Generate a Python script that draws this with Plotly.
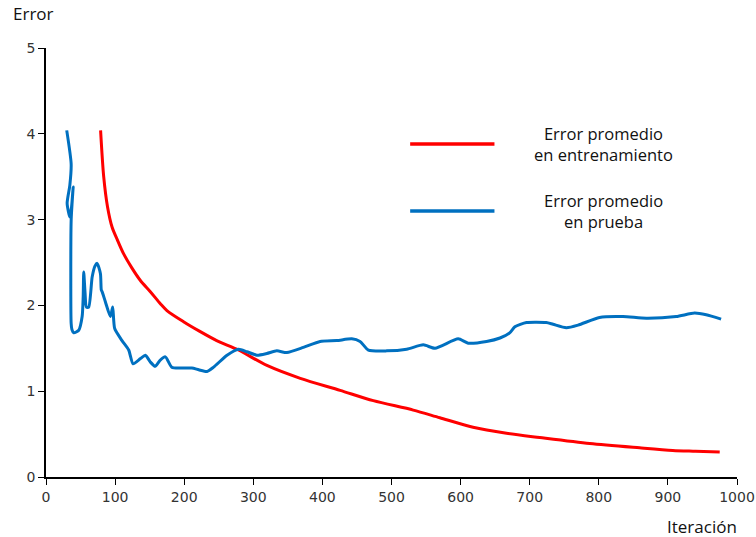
import plotly.graph_objects as go

# Training error (red)
train_x = [79, 83.5, 89, 95.7, 104, 112.4, 124, 136.6, 151, 165.5, 175, 199, 222, 247, 278.6, 319.7,
           368, 425.6, 473.7, 531.5, 570, 618, 666.5, 714.6, 787, 859, 907, 940, 975]
train_y = [4.04, 3.50, 3.15, 2.91, 2.75, 2.60, 2.44, 2.29, 2.16, 2.02, 1.94, 1.81, 1.70, 1.59, 1.48, 1.30,
           1.15, 1.01, 0.89, 0.78, 0.69, 0.58, 0.51, 0.46, 0.39, 0.34, 0.31, 0.30, 0.29]

# Test error (blue)
test_x = [30, 36.4, 34.5, 30.6, 34.4, 37.0, 39.3, 36.4, 36.4, 37.5, 40.2, 47.4, 52.3, 53.8, 54.6, 56.5, 58.5,
          61.8, 66.8, 71, 74, 78.8, 80.0, 81.2, 86, 93.2, 96.5, 99.4, 110, 119.7, 126, 136.6, 143.8,
          151, 158, 165, 172.7, 182, 194, 211, 221, 233, 242.5, 262, 278.6, 290.7, 305, 319.7, 334,
          348.6, 372.5, 396.7, 420.8, 442.5, 454.5, 466.5, 493, 522, 546, 563, 596.5, 611, 637.5,
          657, 671, 678.5, 695.4, 724, 733.8, 753, 770, 801, 835, 868.8, 912, 938.6, 955.5, 977]
test_y = [4.04, 3.65, 3.40, 3.19, 3.03, 3.15, 3.38, 2.99, 1.79, 1.72, 1.68, 1.71, 1.87, 2.10, 2.39, 2.15, 1.98,
          1.98, 2.33, 2.46, 2.49, 2.37, 2.18, 2.16, 2.04, 1.87, 1.98, 1.73, 1.59, 1.48, 1.32, 1.38, 1.42,
          1.34, 1.29, 1.36, 1.40, 1.28, 1.27, 1.27, 1.25, 1.23, 1.28, 1.42, 1.49, 1.46, 1.42, 1.44, 1.47,
          1.45, 1.51, 1.58, 1.59, 1.61, 1.58, 1.48, 1.47, 1.49, 1.54, 1.50, 1.61, 1.56, 1.58,
          1.62, 1.68, 1.75, 1.80, 1.80, 1.78, 1.74, 1.77, 1.86, 1.87, 1.85, 1.87, 1.91, 1.89, 1.84]

x_ticks = [0, 100, 200, 300, 400, 500, 600, 700, 800, 900, 1000]
y_ticks = [0, 1, 2, 3, 4, 5]

series_names = ["Error promedio<br>en entrenamiento", "Error promedio<br>en prueba"]
series_colors = ["#FF0000", "#0070C0"]

fig = go.Figure()
fig.add_trace(go.Scatter(x=train_x, y=train_y, mode="lines",
                         line=dict(color=series_colors[0], width=3, shape="spline", smoothing=0.8),
                         showlegend=False))
fig.add_trace(go.Scatter(x=test_x, y=test_y, mode="lines",
                         line=dict(color=series_colors[1], width=3, shape="spline", smoothing=0.6),
                         showlegend=False))

tick_font = dict(family="DejaVu Sans", size=14, color="#333333")
fig.update_xaxes(range=[0, 1000], tickvals=x_ticks, showgrid=False, zeroline=False,
                 showline=True, linecolor="#000000", linewidth=1.5,
                 ticks="outside", ticklen=6, tickcolor="#000000", tickfont=tick_font)
fig.update_yaxes(range=[0, 5], tickvals=y_ticks, showgrid=False, zeroline=False,
                 showline=True, linecolor="#000000", linewidth=1.5,
                 ticks="outside", ticklen=6, tickcolor="#000000", tickfont=tick_font)

label_font = dict(family="Open Sans", size=17, color="#111111")
annotations = [
    dict(text="Error", xref="paper", yref="paper", x=-0.05, y=1.08, xanchor="left", yanchor="middle",
         showarrow=False, font=label_font),
    dict(text="Iteración", xref="paper", yref="paper", x=1.003, y=-0.115, xanchor="right", yanchor="middle",
         showarrow=False, font=label_font),
]
legend_y = [0.776, 0.620]
for name, color, ly in zip(series_names, series_colors, legend_y):
    annotations.append(dict(text=name, xref="paper", yref="paper", x=0.807, y=ly, xanchor="center",
                            yanchor="middle", showarrow=False, align="center",
                            font=dict(family="Open Sans", size=16.5, color="#111111")))
shapes = []
for color, ly in zip(series_colors, legend_y):
    shapes.append(dict(type="line", xref="paper", yref="paper", x0=0.527, x1=0.649, y0=ly, y1=ly,
                       line=dict(color=color, width=3.5)))

fig.update_layout(width=756, height=537, margin=dict(l=45.5, r=18.5, t=48, b=60, autoexpand=False),
                  paper_bgcolor="white", plot_bgcolor="white",
                  annotations=annotations, shapes=shapes)

# remove the default 8px page margin so the figure fills the window exactly
fig.write_html("out.html", config={"displayModeBar": False},
               post_script="document.body.style.margin='0px';")
